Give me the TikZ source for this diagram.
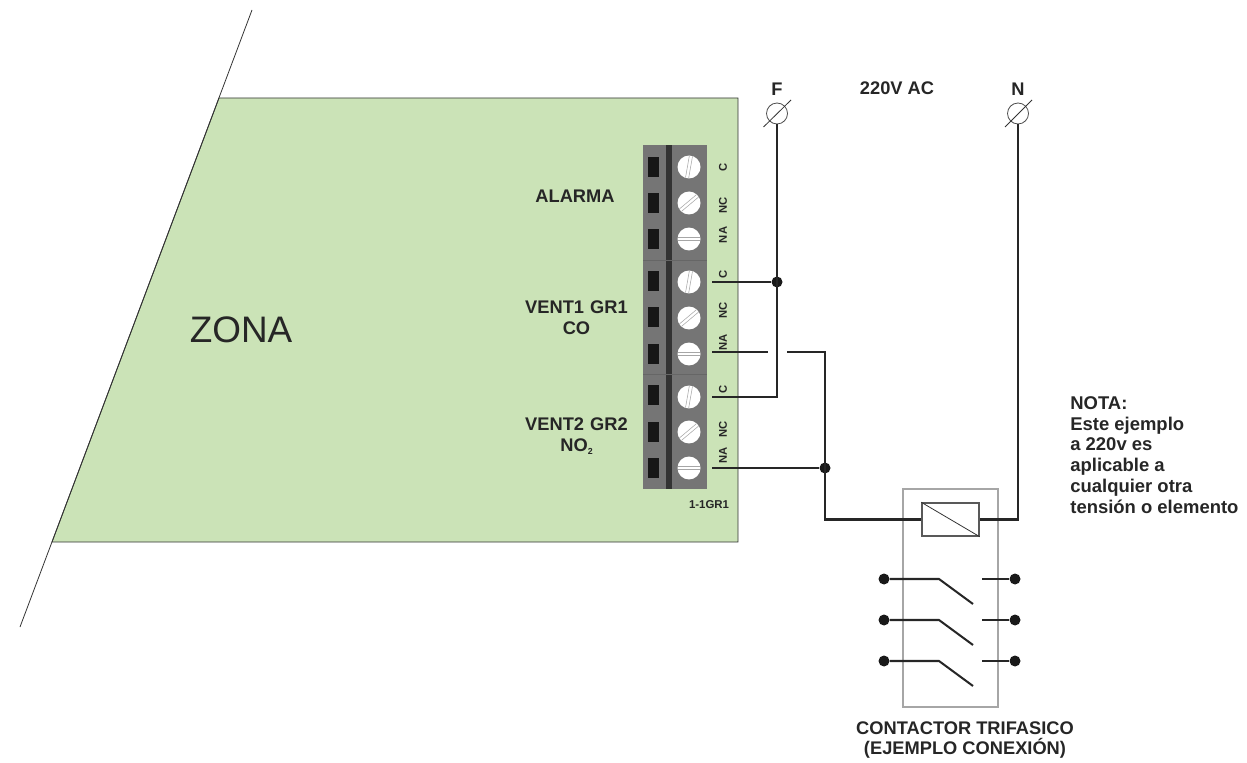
\documentclass[tikz,border=0pt]{standalone}
\usepackage{fontspec}
\setmainfont{Liberation Sans}
\definecolor{boardgreen}{HTML}{CBE3B7}
\definecolor{blockgray}{HTML}{757575}
\definecolor{bardark}{HTML}{333333}
\definecolor{holeblack}{HTML}{161616}
\tikzset{
  wire/.style={line width=1.15pt, black!85},
  thinline/.style={line width=0.45pt, black!80},
  boxline/.style={line width=0.6pt, black!35},
  screw/.style={circle, fill=white, inner sep=0pt, minimum size=0.46cm},
  slot/.style={line width=0.3pt, black!35},
  hole/.style={fill=holeblack, inner sep=0pt, minimum width=0.22cm, minimum height=0.41cm},
  dotnode/.style={circle, fill=black!90, inner sep=0pt, minimum size=0.22cm},
  mains/.style={circle, draw=black!70, line width=0.45pt, fill=white, inner sep=0pt, minimum size=0.42cm},
  lbl/.style={font=\fontsize{10.4}{12}\selectfont\bfseries, text=black!85, align=center, inner sep=0pt},
  pinlbl/.style={font=\fontsize{6.4}{7}\selectfont\bfseries, text=black!85, rotate=90, inner sep=0pt}
}
\begin{document}
\begin{tikzpicture}[x=0.02cm, y=-0.02cm]
  \useasboundingbox (0,0) rectangle (1247,763);

  % board
  \draw[thinline, fill=boardgreen] (219,98) -- (738,98) -- (738,542) -- (52,542) -- cycle;
  \draw[thinline] (252,10) -- (20,627);

  % terminal block
  \fill[blockgray] (643,145) rectangle (707,489);
  \fill[bardark] (666,145) rectangle (672,489);
  \draw[line width=0.5pt, black!60] (643,260) -- (707,260);
  \draw[line width=0.5pt, black!60] (643,374) -- (707,374);

  % holes and screws
  \foreach \n/\h/\s/\a in {1/167/167/80, 2/203/203/40, 3/239/239/0, 4/281/282/80, 5/317/318/40, 6/354/354/0, 7/395/397/80, 8/432/432/40, 9/468/468/0}{
    \node[hole] (h\n) at (653.5,\h) {};
    \node[screw] (s\n) at (689,\s) {};
    \draw[slot, rotate around={\a:(689,\s)}] (678,\s-1.6) -- (700,\s-1.6);
    \draw[slot, rotate around={\a:(689,\s)}] (678,\s+1.6) -- (700,\s+1.6);
  }

  % pin labels
  \foreach \n/\y/\t in {1/167/C, 2/205/NC, 3/235/NA, 4/274/C, 5/310/NC, 6/342/NA, 7/389/C, 8/429/NC, 9/455/NA}{
    \node[pinlbl] (p\n) at (723,\y) {\t};
  }

  % texts
  \node[lbl] (zona) at (241,330) {\fontsize{21}{24}\mdseries\selectfont ZONA};
  \node[lbl] (alarma) at (575,196) {ALARMA};
  \node[lbl, text width=3cm] (vent1) at (576.5,317.5) {VENT1 GR1\\[-0.2pt]CO};
  \node[lbl, text width=3cm] (vent2) at (576.5,436) {VENT2 GR2\\[-0.2pt]NO\raisebox{-1.5pt}{\fontsize{5}{5}\selectfont 2}};
  \node[lbl, font=\fontsize{6.5}{8}\selectfont\bfseries] (ref) at (709,505) {1-1GR1};
  \node[lbl] (volt) at (897,88) {220V AC};
  \node[lbl] (flbl) at (777,89) {F};
  \node[lbl] (nlbl) at (1018,89) {N};
  \node[lbl, align=left, anchor=north west, font=\fontsize{10.5}{11.85}\selectfont\bfseries] (nota) at (1070,396) {NOTA:\\Este ejemplo\\a 220v es\\aplicable a\\cualquier otra\\tensión o elemento};
  \node[lbl] (cont) at (965,740) {CONTACTOR TRIFASICO\\[-0.6pt](EJEMPLO CONEXIÓN)};

  % mains terminals
  \node[mains] (f) at (777,113.5) {};
  \node[mains] (n) at (1018,113.5) {};
  \draw[thinline] (763.5,127) -- (791,100);
  \draw[thinline] (1005,127) -- (1032,100);

  % contactor
  \draw[boxline] (903,489) rectangle (998,707);
  \node[draw=black!65, line width=0.8pt, fill=white, inner sep=0pt, minimum width=1.14cm, minimum height=0.66cm] (coil) at (950.5,519.5) {};
  \draw[thinline] (coil.north west) -- (coil.south east);
  \foreach \n/\y in {1/579, 2/620, 3/661}{
    \node[dotnode] (a\n) at (884,\y) {};
    \node[dotnode] (b\n) at (1015,\y) {};
    \coordinate (m\n) at (939,\y);
    \coordinate (e\n) at (973,\y+25);
    \coordinate (c\n) at (982,\y);
    \draw[wire] (a\n) -- (m\n) -- (e\n);
    \draw[wire] (c\n) -- (b\n);
  }

  % wiring
  \node[dotnode] (j1) at (777,282) {};
  \node[dotnode] (j2) at (825,468) {};
  \coordinate (t4) at (712,282);
  \coordinate (t6) at (712,352);
  \coordinate (t7) at (712,397);
  \coordinate (t9) at (712,468);
  \coordinate (g1) at (768,352);
  \coordinate (g2) at (787,352);
  \coordinate (k1) at (777,397);
  \coordinate (k2) at (825,352);
  \coordinate (k3) at (825,519.5);
  \coordinate (k4) at (1018,519.5);
  \draw[wire] (f) -- (k1) -- (t7);
  \draw[wire] (t4) -- (j1);
  \draw[wire] (t6) -- (g1);
  \draw[wire] (g2) -- (k2) -- (k3) -- (coil);
  \draw[wire] (t9) -- (j2);
  \draw[wire] (n) -- (k4) -- (coil);

\end{tikzpicture}
\end{document}
